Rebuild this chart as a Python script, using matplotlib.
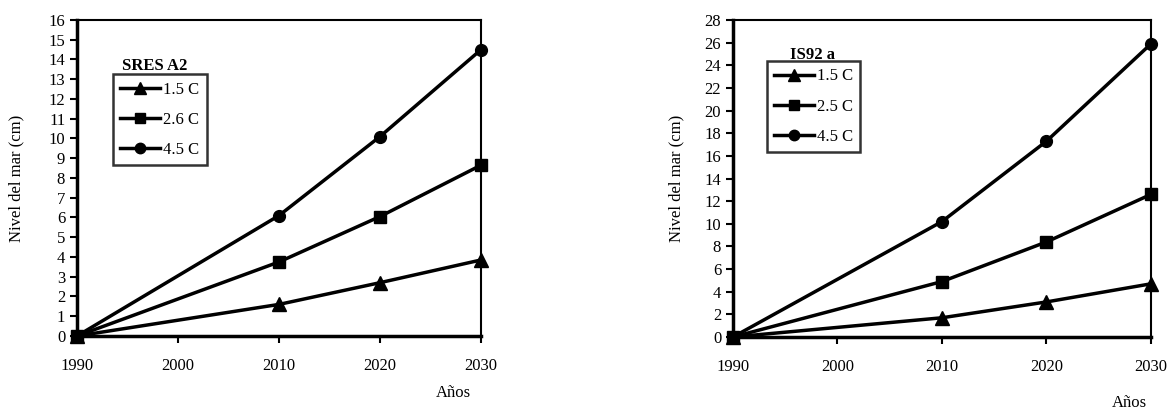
import matplotlib
matplotlib.use("Agg")
import matplotlib.pyplot as plt
from matplotlib.lines import Line2D

plt.rcParams['font.family'] = ['Liberation Serif', 'DejaVu Serif']

# data
years = [1990, 2010, 2020, 2030]
sres_labels = ['1.5 C', '2.6 C', '4.5 C']
sres_15 = [0, 1.6, 2.7, 3.85]
sres_26 = [0, 3.75, 6.05, 8.65]
sres_45 = [0, 6.1, 10.1, 14.5]
is92_labels = ['1.5 C', '2.5 C', '4.5 C']
is92_15 = [0, 1.7, 3.1, 4.7]
is92_25 = [0, 4.9, 8.4, 12.6]
is92_45 = [0, 10.2, 17.3, 25.9]
markers = ['^', 's', 'o']

fig = plt.figure(figsize=(11.69, 4.09), dpi=100)
ax1 = fig.add_axes([0.0659, 0.1785, 0.3456, 0.7726])
ax2 = fig.add_axes([0.627, 0.176, 0.3576, 0.775])


def draw(ax, series, labels, ymax, ystep, title, leg_xy, title_xy):
    for ys, m in zip(series, markers):
        ax.plot(years, ys, color='black', lw=2.5, marker=m,
                ms=10 if m == '^' else 8.5, clip_on=False, zorder=3)
    ax.set_xlim(1990, 2030)
    ax.set_ylim(0, ymax)
    ax.set_xticks(range(1990, 2031, 10))
    ax.set_yticks(range(0, ymax + 1, ystep))
    ax.tick_params(direction='out', length=5, width=1.5, labelsize=12,
                   colors='black')
    ax.tick_params(axis='x', pad=11)
    for s in ['left', 'bottom']:
        ax.spines[s].set_linewidth(2.5)
    for s in ['top', 'right']:
        ax.spines[s].set_linewidth(1.5)
    ax.set_ylabel('Nivel del mar (cm)', fontsize=12)
    handles = [Line2D([], [], color='black', lw=2.5, marker=m,
                      ms=8.5 if m == '^' else 7.5) for m in markers]
    leg = ax.legend(handles, labels, loc='upper left', bbox_to_anchor=leg_xy,
                    fontsize=12, frameon=True, fancybox=False, handlelength=2.4,
                    handletextpad=0.15, borderpad=0.45, labelspacing=0.85,
                    borderaxespad=0)
    leg.get_frame().set_edgecolor('black')
    leg.get_frame().set_linewidth(1.8)
    ax.text(title_xy[0], title_xy[1], title, transform=ax.transAxes,
            fontsize=12, fontweight='bold', ha='center', va='center', zorder=10)


draw(ax1, [sres_15, sres_26, sres_45], sres_labels, 16, 1, 'SRES A2',
     (0.089, 0.829), (0.193, 0.853))
ax1.yaxis.set_label_coords(-0.13, 0.5)
fig.text(453 / 1169, 1 - 393 / 409, 'Años', fontsize=12, ha='center', va='center')

draw(ax2, [is92_15, is92_25, is92_45], is92_labels, 28, 2, 'IS92 a',
     (0.081, 0.871), (0.191, 0.89))
ax2.yaxis.set_label_coords(-0.115, 0.5)
fig.text(1129 / 1169, 1 - 403 / 409, 'Años', fontsize=12, ha='center', va='center')

fig.savefig('out.png', dpi=100)
